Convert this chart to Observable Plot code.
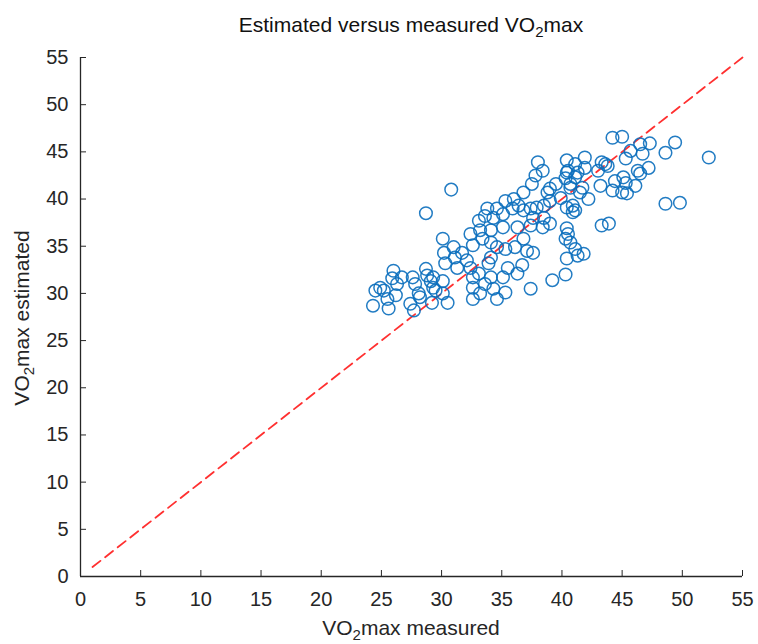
<!DOCTYPE html>
<html>
<head>
<meta charset="utf-8">
<script src="https://cdn.jsdelivr.net/npm/d3@7"></script>
<script src="https://cdn.jsdelivr.net/npm/@observablehq/plot@0.6"></script>
<style>
  html, body { margin: 0; padding: 0; background: #fff; }
  #wrap { position: relative; width: 758px; height: 644px; font-family: "Liberation Sans", Arial, sans-serif; color: #262626; }
  .lbl { position: absolute; white-space: nowrap; font-size: 21px; line-height: 1; }
  .lbl sub { font-size: 15px; vertical-align: -5px; line-height: 0; }
  #title { left: 0; width: 822px; text-align: center; top: 14px; color: #111; }
  #xlab { left: 0; width: 822px; text-align: center; top: 617px; }
  #ylab { left: 21px; top: 318px; transform: translate(-50%, -50%) rotate(-90deg); }
</style>
</head>
<body>
<div id="wrap">
  <div id="chart"></div>
  <div class="lbl" id="title">Estimated versus measured VO<sub>2</sub>max</div>
  <div class="lbl" id="xlab">VO<sub>2</sub>max measured</div>
  <div class="lbl" id="ylab">VO<sub>2</sub>max estimated</div>
</div>
<script>
const xTicks = [0, 5, 10, 15, 20, 25, 30, 35, 40, 45, 50, 55];
const yTicks = [0, 5, 10, 15, 20, 25, 30, 35, 40, 45, 50, 55];
const refX = [1, 55];
const refY = [1, 55];

const measured = [
  24.3, 24.5, 24.9, 25.2, 25.5, 25.6, 25.9, 26.0, 26.2, 26.3, 26.7, 27.4, 27.6, 27.7, 27.8, 28.1, 28.2, 28.7, 28.7, 28.8,
  29.1, 29.2, 29.5, 30.1, 30.1, 30.5, 30.8,
  38.0, 38.4, 37.8, 37.5, 36.8, 36.0, 38.8, 39.5, 40.3, 39.0, 38.5, 37.9, 37.4, 36.4, 35.3, 34.6, 33.8, 33.6, 33.1,
  34.3, 35.1, 35.9, 36.8, 37.6, 38.5, 39.0, 38.4, 37.4, 36.3, 35.1, 34.1, 33.2, 32.4, 32.6, 33.4, 34.1, 34.6, 35.3,
  36.1, 36.8, 37.1, 37.6, 36.7, 36.3, 37.4, 39.2, 30.1, 30.2, 31.0, 31.7, 32.1, 31.1, 31.3, 30.3, 29.3, 29.3,
  32.4, 32.6, 33.1, 32.6, 33.2, 32.6, 34.1, 34.3, 34.6, 35.3, 33.9, 34.1, 35.1, 35.5, 33.6,
  44.2, 45.0, 46.5, 47.3, 49.4, 48.6, 52.2, 45.7, 46.7, 45.3, 43.6, 43.3, 41.9, 40.4, 41.1, 40.4, 41.3, 41.9,
  46.3, 47.2, 46.5, 45.3, 46.1, 44.2, 45.0, 45.4, 43.2, 42.2, 41.5, 40.7, 39.9, 40.9, 41.1, 40.4, 48.6, 49.8,
  43.3, 43.9, 40.4, 40.5, 40.3, 40.7, 41.1, 41.8, 41.3, 40.4, 40.3,
  40.5, 41.1, 40.7, 41.7, 39.0, 43.8, 43.0, 44.4, 45.1, 40.9
];
const estimated = [
  28.7, 30.3, 30.6, 30.3, 29.4, 28.4, 31.6, 32.4, 29.8, 31.0, 31.7, 28.9, 31.7, 28.2, 31.0, 30.0, 29.6, 32.6, 38.5, 31.9,
  31.3, 29.0, 30.3, 31.3, 30.0, 29.0, 41.0,
  43.9, 43.0, 42.5, 41.6, 40.7, 40.0, 40.7, 41.6, 42.2, 39.8, 39.3, 39.1, 39.0, 39.3, 39.8, 39.0, 39.0, 38.2, 37.7,
  38.0, 38.4, 39.0, 38.8, 38.0, 38.0, 37.4, 37.0, 37.2, 37.0, 37.0, 36.7, 36.7, 36.3, 35.1, 35.8, 35.4, 34.9, 34.7,
  34.9, 35.8, 34.5, 34.3, 33.0, 32.1, 30.5, 31.4, 35.8, 34.3, 34.9, 34.3, 33.5, 33.8, 32.7, 33.2, 31.7, 30.6,
  32.7, 31.7, 32.1, 30.6, 30.0, 29.4, 31.7, 30.5, 29.4, 30.1, 33.2, 33.8, 31.7, 32.7, 31.0,
  46.5, 46.6, 45.8, 45.9, 46.0, 44.9, 44.4, 45.1, 44.8, 44.3, 43.7, 43.9, 44.4, 44.1, 43.7, 42.8, 42.8, 43.3,
  43.0, 43.3, 42.7, 41.7, 41.4, 40.9, 40.7, 40.6, 41.4, 40.0, 40.7, 41.2, 40.1, 39.3, 38.8, 39.1, 39.5, 39.6,
  37.2, 37.4, 36.9, 36.3, 35.8, 35.4, 34.7, 34.2, 34.0, 33.7, 32.0,
  43.0, 42.3, 41.6, 41.2, 41.1, 43.5, 43.0, 41.9, 42.3, 38.6
];

const points = measured.map((m, i) => ({m, e: estimated[i]}));
const ref = refX.map((x, i) => ({x, y: refY[i]}));

const chart = Plot.plot({
  width: 758,
  height: 644,
  marginLeft: 80,
  marginRight: 16,
  marginTop: 57,
  marginBottom: 68,
  style: {fontFamily: '"Liberation Sans", Arial, sans-serif', fontSize: "20px", color: "#262626", background: "white", overflow: "visible"},
  x: {domain: [0, 55], label: null},
  y: {domain: [0, 55], label: null},
  marks: [
    Plot.ruleY([0], {stroke: "#262626", strokeWidth: 1.3}),
    Plot.ruleX([0], {stroke: "#262626", strokeWidth: 1.3}),
    Plot.axisX({ticks: xTicks, tickSize: -6, tickPadding: 21, label: null, stroke: "#262626", fill: "#262626"}),
    Plot.axisY({ticks: yTicks, tickSize: -6, tickPadding: 18, label: null, stroke: "#262626", fill: "#262626"}),
    Plot.line(ref, {x: "x", y: "y", stroke: "#ff3030", strokeWidth: 1.8, strokeDasharray: "10,6"}),
    Plot.dot(points, {x: "m", y: "e", r: 6.3, stroke: "#0a6ebd", strokeWidth: 1.5, strokeOpacity: 0.9, fill: "none"})
  ]
});
document.getElementById("chart").appendChild(chart);
</script>
</body>
</html>
